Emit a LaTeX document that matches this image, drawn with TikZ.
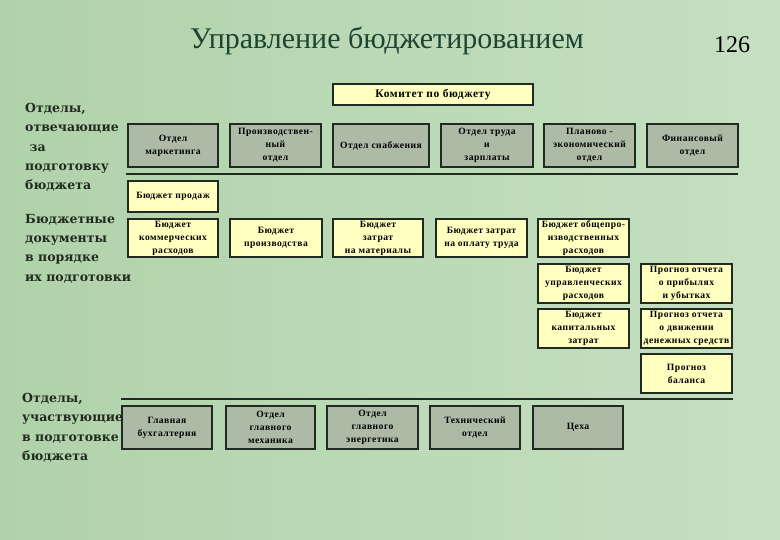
\documentclass[tikz,border=0pt]{standalone}
\usepackage{fontspec}
\setmainfont{Liberation Serif}
\newfontfamily\labelfont{DejaVu Serif}
\newfontfamily\boxfont[LetterSpace=5]{Liberation Serif}
\definecolor{bgA}{RGB}{176,210,170}
\definecolor{bgB}{RGB}{198,224,194}
\definecolor{grayfill}{RGB}{172,186,166}
\definecolor{yelfill}{RGB}{255,255,192}
\definecolor{edge}{RGB}{32,42,32}
\definecolor{labcol}{RGB}{34,42,32}
\definecolor{titlecol}{RGB}{30,68,50}
\tikzset{
  bx/.style={draw=edge, line width=1.3pt, anchor=north west, inner sep=0pt, outer sep=0pt,
    align=center, font=\boxfont\bfseries\fontsize{9.6}{13}\selectfont, text=black},
  dept/.style={bx, fill=grayfill},
  doc/.style={bx, fill=yelfill},
  sep/.style={draw=edge, line width=2.6pt},
  lab/.style={anchor=north west, align=left, inner sep=0pt, text=labcol,
    font=\labelfont\bfseries\fontsize{12.5}{19.3}\selectfont}
}
\begin{document}
\begin{tikzpicture}[x=1pt,y=-1pt]
\useasboundingbox (0,0) rectangle (780,540);
\shade[left color=bgA, right color=bgB] (0,0) rectangle (780,540);
% title
\node[font=\fontsize{30}{30}\selectfont, text=titlecol] (title) at (387,41) {Управление бюджетированием};
\node[font=\fontsize{24}{24}\selectfont] (page) at (732,45) {126};
% left labels
\node[lab] (l1) at (25,103) {Отделы,\\отвечающие\\\ за\\подготовку\\бюджета};
\node[lab] (l2) at (25,214) {Бюджетные\\документы\\в порядке\\их подготовки};
\node[lab] (l3) at (22,393) {Отделы,\\участвующие\\в подготовке\\бюджета};
% committee
\node[doc, minimum width=200pt, minimum height=21pt, font=\boxfont\bfseries\fontsize{11.5}{13}\selectfont] (kom) at (333,84) {Комитет по бюджету};
% departments row
\node[dept, minimum width=90pt, minimum height=43pt] (d1) at (128,124) {Отдел\\маркетинга};
\node[dept, minimum width=91pt, minimum height=43pt] (d2) at (230,124) {Производствен-\\ный\\отдел};
\node[dept, minimum width=96pt, minimum height=43pt] (d3) at (333,124) {Отдел снабжения};
\node[dept, minimum width=92pt, minimum height=43pt] (d4) at (441,124) {Отдел труда\\и\\зарплаты};
\node[dept, minimum width=91pt, minimum height=43pt] (d5) at (544,124) {Планово -\\экономический\\отдел};
\node[dept, minimum width=91pt, minimum height=43pt] (d6) at (647,124) {Финансовый\\отдел};
\draw[sep] (126,174) -- (738,174);
% documents
\node[doc, minimum width=90pt, minimum height=31pt] (b0) at (128,181) {Бюджет продаж};
\node[doc, minimum width=90pt, minimum height=38pt] (b1) at (128,219) {Бюджет\\коммерческих\\расходов};
\node[doc, minimum width=92pt, minimum height=38pt] (b2) at (230,219) {Бюджет\\производства};
\node[doc, minimum width=90pt, minimum height=38pt] (b3) at (333,219) {Бюджет\\затрат\\на материалы};
\node[doc, minimum width=91pt, minimum height=38pt] (b4) at (436,219) {Бюджет затрат\\на оплату труда};
\node[doc, minimum width=91pt, minimum height=38pt] (b5) at (538,219) {Бюджет общепро-\\изводственных\\расходов};
\node[doc, minimum width=91pt, minimum height=39pt] (b6) at (538,264) {Бюджет\\управленческих\\расходов};
\node[doc, minimum width=91pt, minimum height=39pt] (b7) at (538,309) {Бюджет\\капитальных\\затрат};
\node[doc, minimum width=91pt, minimum height=39pt] (p1) at (641,264) {Прогноз отчета\\о прибылях\\и убытках};
\node[doc, minimum width=91pt, minimum height=39pt] (p2) at (641,309) {Прогноз отчета\\о движении\\денежных средств};
\node[doc, minimum width=91pt, minimum height=39pt] (p3) at (641,354) {Прогноз\\баланса};
\draw[sep] (121,399) -- (733,399);
% participating departments
\node[dept, minimum width=90pt, minimum height=43pt] (e1) at (122,406) {Главная\\бухгалтерия};
\node[dept, minimum width=89pt, minimum height=43pt] (e2) at (226,406) {Отдел\\главного\\механика};
\node[dept, minimum width=91pt, minimum height=43pt] (e3) at (327,406) {Отдел\\главного\\энергетика};
\node[dept, minimum width=90pt, minimum height=43pt] (e4) at (430,406) {Технический\\отдел};
\node[dept, minimum width=90pt, minimum height=43pt] (e5) at (533,406) {Цеха};
\end{tikzpicture}
\end{document}
